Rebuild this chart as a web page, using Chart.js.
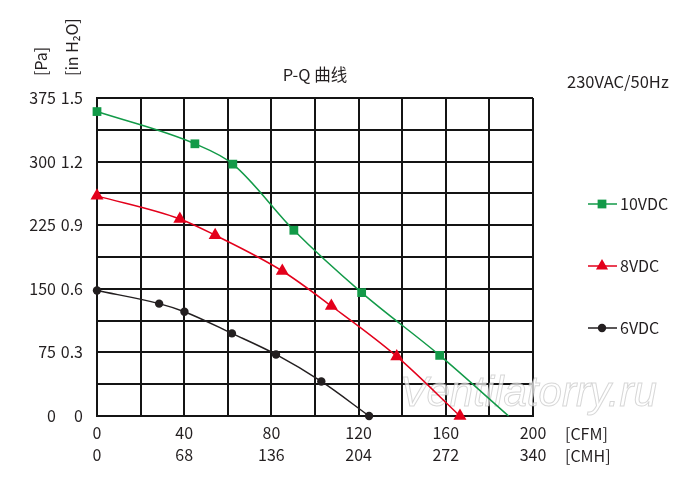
<!DOCTYPE html>
<html>
<head>
<meta charset="utf-8">
<script src="https://cdn.jsdelivr.net/npm/chart.js@4.4.0/dist/chart.umd.min.js"></script>
<style>
  html, body { margin: 0; padding: 0; background: #fff; }
  #wrap { width: 700px; height: 484px; }
</style>
</head>
<body>
<div id="wrap"><canvas id="pq"></canvas></div>
<script>
// air flow [CFM] and static pressure [Pa] per control voltage
const cfm10 = [0, 44.9, 62.3, 90.3, 121.4, 157.2, 188.8];
const pa10 = [359, 321, 297, 219, 145.5, 71.5, 0];
const cfm8 = [0, 38, 54.2, 85, 107.5, 137.5, 166.5];
const pa8 = [259.6, 232.4, 213.2, 171, 129.7, 70.3, 0];
const cfm6 = [0, 28.5, 40.1, 61.9, 82.1, 102.9, 124.8];
const pa6 = [148, 132.5, 123, 97.4, 72.6, 40.7, 0];

// tick labels
const cfmTicks = [0, 40, 80, 120, 160, 200];
const cmhTicks = [0, 68, 136, 204, 272, 340];
const paTicks = [0, 75, 150, 225, 300, 375];
const inh2oTicks = ['0', '0.3', '0.6', '0.9', '1.2', '1.5'];

const FONT = '"Noto Sans CJK SC", "Noto Sans", sans-serif';
const INK = '#231f20';
const GRID = '#141414';

const toPoints = (xs, ys) => xs.map((x, i) => ({ x, y: ys[i] }));

const series = [
  { label: '10VDC', data: toPoints(cfm10, pa10), color: '#129a48', style: 'rect',
    radius: cfm10.map((v, i) => i === cfm10.length - 1 ? 0 : 6.2) },
  { label: '8VDC', data: toPoints(cfm8, pa8), color: '#e3001b', style: 'triangle', radius: 7.5 },
  { label: '6VDC', data: toPoints(cfm6, pa6), color: INK, style: 'circle', radius: 4.2 }
];

function marker(ctx, style, x, y, r) {
  ctx.beginPath();
  if (style === 'rect') {
    const s = r * Math.SQRT1_2;
    ctx.rect(x - s, y - s, 2 * s, 2 * s);
  } else if (style === 'triangle') {
    ctx.moveTo(x, y - r);
    ctx.lineTo(x + r * 0.866, y + r * 0.5);
    ctx.lineTo(x - r * 0.866, y + r * 0.5);
    ctx.closePath();
  } else {
    ctx.arc(x, y, r, 0, Math.PI * 2);
  }
  ctx.fill();
}

const watermark = {
  id: 'watermark',
  beforeDatasetsDraw(chart) {
    const { ctx, chartArea: a } = chart;
    ctx.save();
    ctx.font = `italic 42px "Liberation Sans", sans-serif`;
    ctx.textBaseline = 'alphabetic';
    ctx.fillStyle = 'rgba(255,255,255,0.7)';
    ctx.strokeStyle = 'rgba(175,175,175,0.5)';
    ctx.lineWidth = 1;
    ctx.fillText('Ventilatorry.ru', a.left + 303, a.bottom - 10);
    ctx.strokeText('Ventilatorry.ru', a.left + 303, a.bottom - 10);
    ctx.restore();
  }
};

const annotations = {
  id: 'annotations',
  afterDraw(chart) {
    const { ctx, chartArea: a } = chart;
    ctx.save();
    ctx.fillStyle = INK;
    ctx.textBaseline = 'middle';

    // title
    ctx.font = `16.5px ${FONT}`;
    ctx.textAlign = 'center';
    ctx.fillText('P-Q 曲线', (a.left + a.right) / 2, a.top - 23);

    ctx.textAlign = 'left';
    ctx.fillText('230VAC/50Hz', 567, a.top - 16);

    // unit labels of the axes
    ctx.font = `16px ${FONT}`;
    ctx.fillText('[CFM]', 565, a.bottom + 18);
    ctx.fillText('[CMH]', 565, a.bottom + 40);

    [['[Pa]', a.left - 56], ['[in H₂O]', a.left - 25]].forEach(([t, x]) => {
      ctx.save();
      ctx.translate(x, a.top - 22);
      ctx.rotate(-Math.PI / 2);
      ctx.fillText(t, 0, 0);
      ctx.restore();
    });

    // legend
    series.forEach((s, i) => {
      const y = 204 + 62 * i;
      ctx.strokeStyle = s.color;
      ctx.fillStyle = s.color;
      ctx.lineWidth = 1.5;
      ctx.beginPath();
      ctx.moveTo(588, y);
      ctx.lineTo(617, y);
      ctx.stroke();
      marker(ctx, s.style, 602, y, s.style === 'circle' ? 4.2 : (s.style === 'rect' ? 6.2 : 7));
      ctx.fillStyle = INK;
      ctx.font = `16px ${FONT}`;
      ctx.fillText(s.label, 620, y);
    });
    ctx.restore();
  }
};

const tickFont = { family: FONT, size: 16 };

new Chart(document.getElementById('pq'), {
  type: 'line',
  data: {
    datasets: series.map(s => ({
      label: s.label,
      data: s.data,
      borderColor: s.color,
      backgroundColor: s.color,
      borderWidth: 1.5,
      pointStyle: s.style,
      pointRadius: s.radius,
      pointBorderWidth: 0,
      cubicInterpolationMode: 'monotone',
      clip: false,
      xAxisID: 'x',
      yAxisID: 'y'
    }))
  },
  options: {
    responsive: true,
    maintainAspectRatio: false,
    animation: false,
    layout: { padding: { left: 0, top: 98, right: 167, bottom: 0 } },
    plugins: { legend: { display: false }, tooltip: { enabled: false }, title: { display: false } },
    scales: {
      x: {
        type: 'linear', min: 0, max: 200,
        ticks: {
          stepSize: 20, autoSkip: false, maxRotation: 0, padding: 6, color: INK,
          font: { ...tickFont, lineHeight: 1.38 },
          callback: v => {
            const i = cfmTicks.indexOf(v);
            return i < 0 ? '' : [String(cfmTicks[i]), String(cmhTicks[i])];
          }
        },
        grid: { color: GRID, lineWidth: 2, drawTicks: false },
        border: { color: GRID, width: 2 },
        afterFit: s => { s.height = 68; }
      },
      y: {
        position: 'left', weight: 0, min: 0, max: 375,
        ticks: {
          stepSize: 37.5, padding: 14, color: INK, font: tickFont,
          callback: v => {
            const i = paTicks.indexOf(v);
            return i < 0 ? '' : inh2oTicks[i];
          }
        },
        grid: { color: GRID, lineWidth: 2, drawTicks: false },
        border: { color: GRID, width: 2 },
        afterFit: s => { s.width = 37; }
      },
      yPa: {
        position: 'left', weight: 1, min: 0, max: 375,
        ticks: {
          stepSize: 37.5, padding: 4, color: INK, font: tickFont,
          callback: v => paTicks.includes(v) ? String(v) : ''
        },
        grid: { display: false, drawTicks: false },
        border: { display: false },
        afterFit: s => { s.width = 60; }
      }
    }
  },
  plugins: [watermark, annotations]
});
</script>
</body>
</html>
